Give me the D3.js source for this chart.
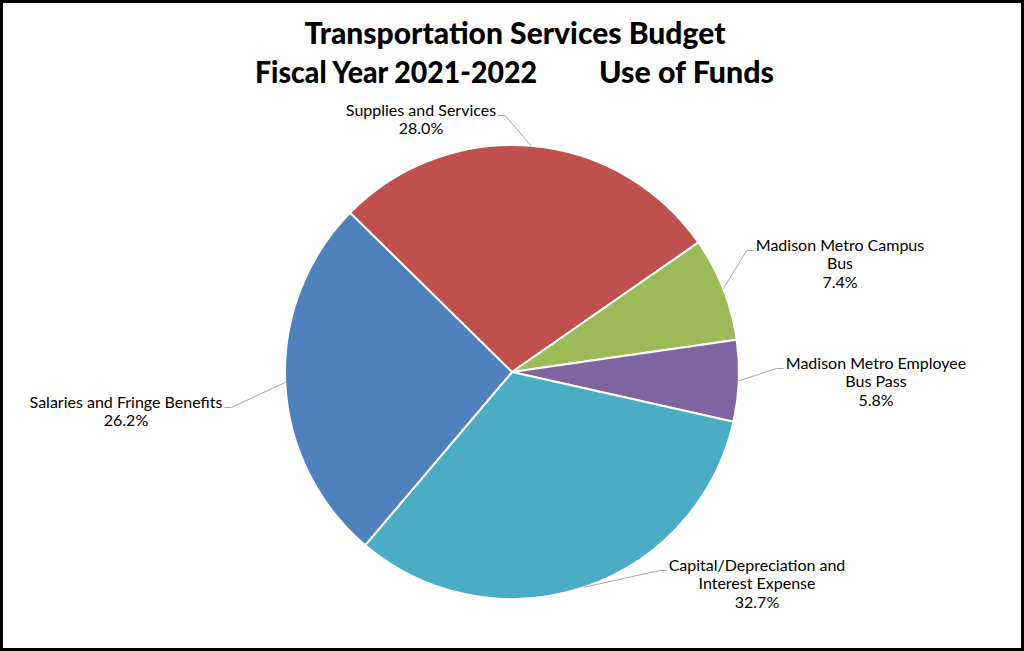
<!DOCTYPE html>
<html><head><meta charset="utf-8">
<script src="https://cdn.jsdelivr.net/npm/d3@7"></script>
<style>html,body{margin:0;padding:0;background:#fff;}svg{display:block;}</style>
</head><body>
<svg id="chart" width="1024" height="651"></svg>
<script>
const categories = ["Supplies and Services", "Madison Metro Campus Bus", "Madison Metro Employee Bus Pass", "Capital/Depreciation and Interest Expense", "Salaries and Fringe Benefits"];
const labelLines = [["Supplies and Services"], ["Madison Metro Campus", "Bus"], ["Madison Metro Employee", "Bus Pass"], ["Capital/Depreciation and", "Interest Expense"], ["Salaries and Fringe Benefits"]];
const values = [28.0, 7.4, 5.8, 32.7, 26.2];
const colors = ["#C0504D", "#9BBB59", "#8064A2", "#4BACC6", "#4F81BD"];
const titleLines = ["Transportation Services Budget", "Fiscal Year 2021-2022", "Use of Funds"];

// layout (label anchor: center x, first baseline y, elbow side)
const labelLayout = [
  {x: 421, y: 116, side: "right"},
  {x: 840, y: 251, side: "left"},
  {x: 876, y: 369, side: "left"},
  {x: 757, y: 571, side: "left"},
  {x: 126, y: 408, side: "right"}
];

const W = 1024, H = 651;
const svg = d3.select("#chart");
svg.append("rect").attr("x", 1.5).attr("y", 1.5).attr("width", W - 3).attr("height", H - 3)
  .attr("fill", "#fff").attr("stroke", "#000").attr("stroke-width", 3);

const cx = 512, cy = 372, R = 227;
const startDeg = -45.5;
const pie = d3.pie().sort(null).value(d => d)
  .startAngle(startDeg * Math.PI / 180).endAngle((startDeg + 360) * Math.PI / 180);
const arcs = pie(values);
const arc = d3.arc().innerRadius(0).outerRadius(R);
const g = svg.append("g").attr("transform", `translate(${cx},${cy})`);
g.selectAll("path").data(arcs).join("path")
  .attr("d", arc).attr("fill", (d, i) => colors[i])
  .attr("stroke", "#fff").attr("stroke-width", 2).attr("stroke-linejoin", "round");

// titles
function title(txt, x, y, len) {
  const t = svg.append("text").attr("x", x).attr("y", y).attr("text-anchor", "middle")
    .style("font-family", "Lato").style("font-weight", 900).style("font-size", "30px").attr("fill", "#000")
    .text(txt);
  if (len) t.attr("textLength", len).attr("lengthAdjust", "spacingAndGlyphs");
}
title(titleLines[0], 515, 44, 421);
title(titleLines[1], 396, 83, 282);
title(titleLines[2], 686.5, 83, 175);

// labels
const fmt = d3.format(".1f");
const lineH = 18.3;
arcs.forEach((a, i) => {
  const L = labelLayout[i];
  const lines = labelLines[i].concat([fmt(values[i]) + "%"]);
  const t = svg.append("text").attr("text-anchor", "middle")
    .style("font-family", "Lato").style("font-size", "16px").attr("fill", "#000");
  lines.forEach((ln, k) => t.append("tspan").attr("x", L.x).attr("y", L.y + k * lineH).text(ln));
  const firstW = t.select("tspan").node().getComputedTextLength();
  const mid = (a.startAngle + a.endAngle) / 2;
  const px = cx + R * Math.sin(mid), py = cy - R * Math.cos(mid);
  const ly = L.y - 0.5;
  let ex, elbow;
  if (L.side === "right") { ex = L.x + firstW / 2 + 2; elbow = ex + 7; }
  else { ex = L.x - firstW / 2 - 2; elbow = ex - 7; }
  svg.append("polyline").attr("points", `${ex},${ly} ${elbow},${ly} ${px},${py}`)
    .attr("fill", "none").attr("stroke", "#A6A6A6").attr("stroke-width", 1);
});
</script>
</body></html>
